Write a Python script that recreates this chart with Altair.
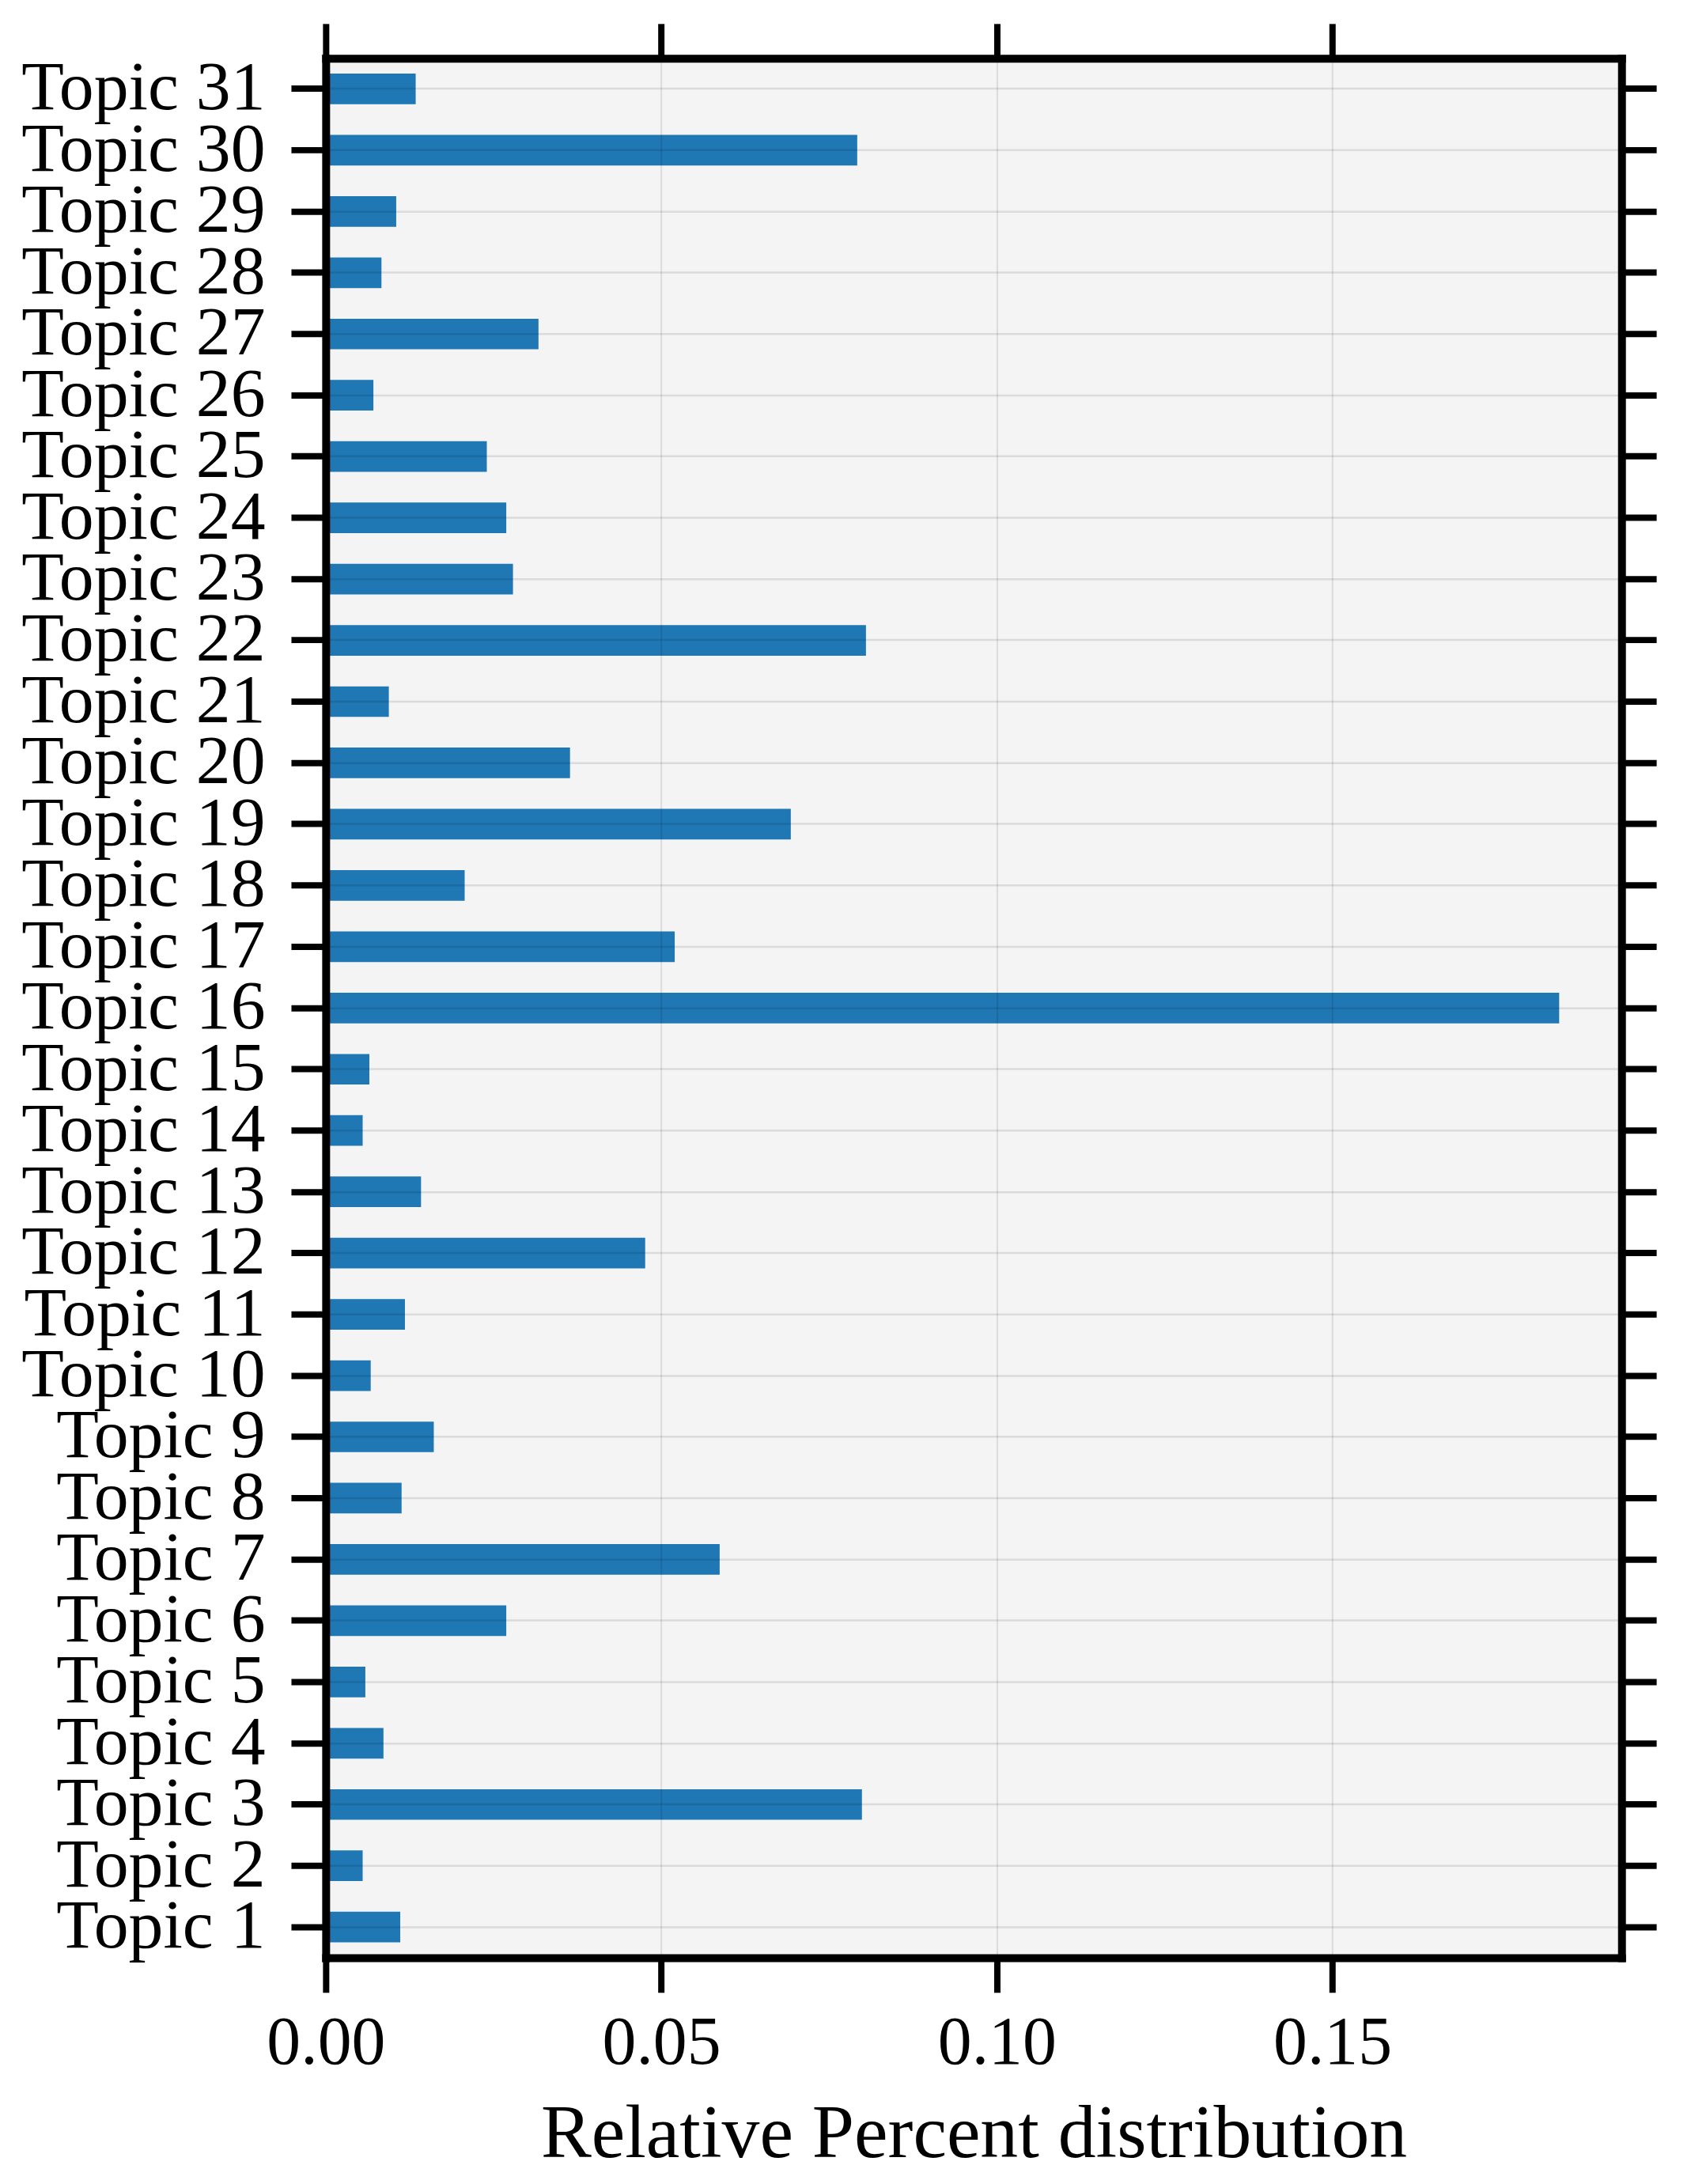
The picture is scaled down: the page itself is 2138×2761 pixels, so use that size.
import altair as alt
import pandas as pd

topics = [f"Topic {i}" for i in range(1, 32)]
values = [
    0.0111, 0.0055, 0.0799, 0.0086, 0.0059, 0.0269, 0.0587, 0.0113, 0.0161, 0.0067,
    0.0118, 0.0476, 0.0142, 0.0055, 0.0065, 0.1838, 0.0520, 0.0207, 0.0693, 0.0364,
    0.0094, 0.0805, 0.0279, 0.0269, 0.0240, 0.0071, 0.0317, 0.0083, 0.0105, 0.0792,
    0.0134,
]
x_ticks = [0.0, 0.05, 0.10, 0.15]
x_title = "Relative Percent distribution"

df = pd.DataFrame({"topic": topics, "value": values})
order = list(reversed(topics))

FONT = "Liberation Serif"
TICK = 44
TW = 8
DW = 10
GRID = "black"

x_scale = alt.Scale(domain=[0, 0.1931], nice=False, zero=True)
y_scale = alt.Scale(paddingInner=0.5, paddingOuter=0.25)

common = dict(
    tickSize=TICK, tickWidth=TW, tickColor="black",
    domainColor="black", domainWidth=DW, domainCap="square",
    zindex=1,
)

bottom_axis = alt.Axis(
    orient="bottom", values=x_ticks, format=".2f", title=x_title,
    labelFont=FONT, labelFontSize=86, labelColor="black", labelPadding=22,
    labelFlush=False, labelOverlap=False,
    titleFont=FONT, titleFontSize=96, titleFontWeight="normal", titleColor="black",
    titleBaseline="alphabetic", titleY=252,
    grid=True, gridColor=GRID, gridOpacity=0.1, gridWidth=2,
    **common,
)
left_axis = alt.Axis(
    orient="left", title=None,
    labelFont=FONT, labelFontSize=88, labelColor="black", labelPadding=33,
    labelOverlap=False, labelLimit=500, tickBand="center",
    grid=True, gridColor=GRID, gridOpacity=0.1, gridWidth=2.5,
    **common,
)
top_axis = alt.Axis(
    orient="top", values=x_ticks, labels=False, title=None, grid=False,
    **common,
)
right_axis = alt.Axis(
    orient="right", labels=False, title=None, grid=False, tickBand="center",
    **common,
)

base = alt.Chart(df)
bars = base.mark_bar(color="#1f77b4").encode(
    x=alt.X("value:Q", scale=x_scale, axis=bottom_axis),
    y=alt.Y("topic:N", sort=order, scale=y_scale, axis=left_axis),
)
frame = base.mark_bar(opacity=0).encode(
    x=alt.X("value:Q", scale=x_scale, axis=top_axis),
    y=alt.Y("topic:N", sort=order, scale=y_scale, axis=right_axis),
)

chart = (
    alt.layer(bars, frame)
    .resolve_axis(x="independent", y="independent")
    .properties(
        width=1643, height=2408,
        autosize=alt.AutoSizeParams(type="none"),
        padding={"left": 405, "top": 62, "right": 80, "bottom": 275},
    )
    .configure_view(fill="#f4f4f4", strokeOpacity=0)
)

chart.save("out.html", embed_options={"renderer": "svg", "actions": False})
